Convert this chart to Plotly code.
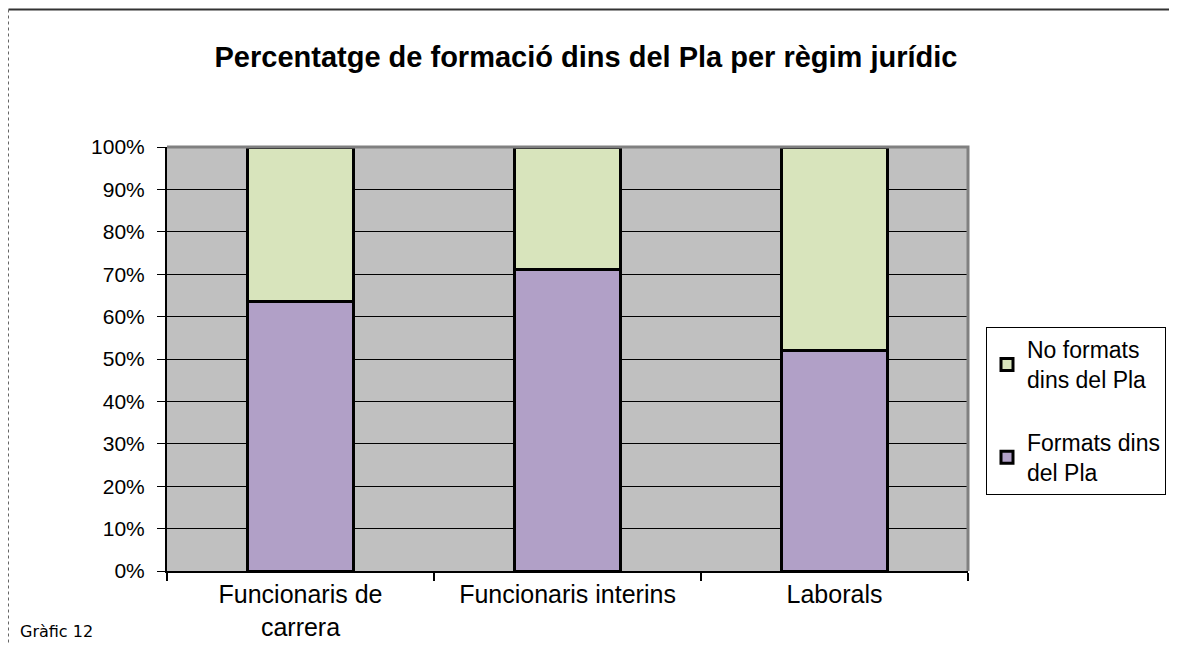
import plotly.graph_objects as go

# data
categories = ["Funcionaris de<br>carrera", "Funcionaris interins", "Laborals"]
formats = [63.5, 71.2, 52.0]
no_formats = [36.5, 28.8, 48.0]
y_ticks = [0, 10, 20, 30, 40, 50, 60, 70, 80, 90, 100]
y_labels = [f"{v}%" for v in y_ticks]

# the page has an 8px body margin, so work in reference pixels minus 8
OFF = 8
W, H = 1177 - 2 * OFF, 653 - 2 * OFF
L, R, T, B = 167 - OFF, 968 - OFF, 147 - OFF, 571 - OFF


def px(x):
    return (x - OFF - L) / (R - L)


def py_(y):
    return (B - (y - OFF)) / (B - T)


fig = go.Figure()
fig.add_trace(go.Bar(
    x=categories, y=formats, name="Formats dins<br>del Pla",
    legendgroup="a", legendrank=2,
    marker=dict(color="#B1A0C7", line=dict(color="black", width=3)),
))
fig.add_trace(go.Bar(
    x=categories, y=no_formats, name="No formats<br>dins del Pla",
    legendgroup="b", legendrank=1,
    marker=dict(color="#D8E4BC", line=dict(color="black", width=3)),
))

fig.update_layout(
    width=W, height=H,
    barmode="stack", bargap=0.6,
    paper_bgcolor="white", plot_bgcolor="#C0C0C0",
    margin=dict(l=L, r=W - R, t=T, b=H - B, autoexpand=False),
    font=dict(family="Liberation Sans, Arial", size=21, color="black"),
    title=dict(
        text="<b>Percentatge de formació dins del Pla per règim jurídic</b>",
        x=px(586), xref="paper", xanchor="center",
        y=1 - (57 - OFF) / H, yanchor="middle",
        font=dict(size=29, family="Liberation Sans, Arial"),
    ),
    legend=dict(
        traceorder="grouped",
        x=px(986), xanchor="left", y=py_(327), yanchor="top",
        bordercolor="black", borderwidth=1, bgcolor="white",
        font=dict(size=23), tracegroupgap=30,
    ),
    showlegend=True,
)

fig.update_xaxes(
    showgrid=False, showline=True, linecolor="black", linewidth=2,
    ticks="outside", tickson="boundaries", ticklen=8, tickwidth=2, tickcolor="black",
    range=[-0.5, 2.5], tickfont=dict(size=25),
)
fig.update_yaxes(
    range=[0, 100], tickvals=y_ticks, ticktext=y_labels,
    showgrid=True, gridcolor="black", gridwidth=1,
    showline=True, linecolor="black", linewidth=2,
    ticks="outside", ticklen=8, tickcolor="black", zeroline=False,
    ticklabelstandoff=8,
)

# gray top/right border of plot area
fig.add_shape(type="path", xref="paper", yref="paper",
              path="M 0,1 L 1,1 L 1,0", line=dict(color="#808080", width=3), layer="above")

# chart frame lines
fig.add_shape(type="line", xref="paper", yref="paper",
              x0=px(8.5), x1=px(1200), y0=py_(9.5), y1=py_(9.5),
              line=dict(color="#333333", width=2))
fig.add_shape(type="line", xref="paper", yref="paper",
              x0=px(8.5), x1=px(8.5), y0=py_(9.5), y1=py_(700),
              line=dict(color="#666666", width=1, dash="dot"))

fig.add_annotation(text="Gràfic 12", xref="paper", yref="paper",
                   x=px(18), y=py_(631), xanchor="left", yanchor="middle",
                   showarrow=False, font=dict(family="DejaVu Sans", size=16))

fig.write_html("out.html")
